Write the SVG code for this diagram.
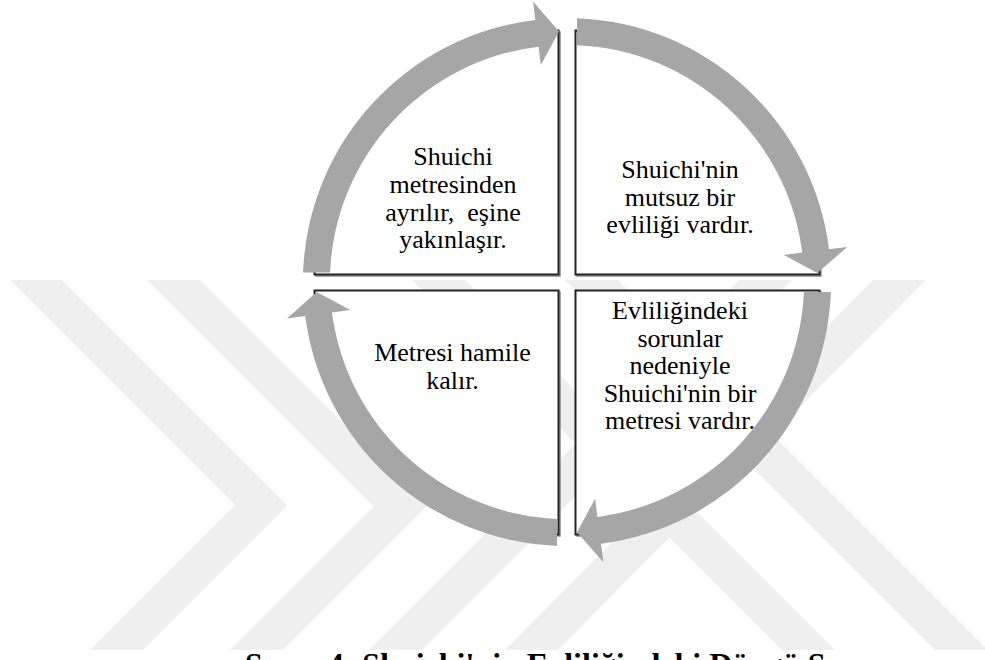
<svg xmlns="http://www.w3.org/2000/svg" width="985" height="660" viewBox="0 0 985 660">
  <style>
    .wm { fill: #efefef; }
    .quad { fill: #ffffff; stroke: #222222; stroke-width: 2; }
    .quad-shadow { fill: none; stroke: #8a8a8a; stroke-width: 1.5; }
    .arrow { fill: #a6a6a6; }
    .label { font-family: "Liberation Serif", "Times New Roman", serif; font-size: 26px; fill: #000000; text-anchor: middle; }
    .caption { font-family: "Liberation Serif", "Times New Roman", serif; font-size: 32px; font-weight: bold; fill: #000000; }
  </style>
  <defs>
    <path id="q-tl" d="M 314.5 274.5 A 244 244 0 0 1 558.5 30.5 L 558.5 274.5 Z"/>
    <path id="q-tr" d="M 575.5 30.5 A 244 244 0 0 1 819.5 274.5 L 575.5 274.5 Z"/>
    <path id="q-br" d="M 819.5 290.5 A 244 244 0 0 1 575.5 534.5 L 575.5 290.5 Z"/>
    <path id="q-bl" d="M 558.5 534.5 A 244 244 0 0 1 314.5 290.5 L 558.5 290.5 Z"/>
  </defs>

  <rect width="985" height="660" fill="#ffffff"/>

  <!-- faint background emblem -->
  <g id="emblem">
    <polygon class="wm" points="10,280 62,280 287.5,505.5 143,650 90,650 235,505"/>
    <polygon class="wm" points="147,280 200,280 426.5,506.5 283,650 230,650 373.5,506.5"/>
    <polygon class="wm" points="739,280 792,280 422,650 369,650"/>
    <polygon class="wm" points="873,280 926,280 558,650 505,650"/>
    <polygon class="wm" points="412,280 465,280 835,650 782,650"/>
    <polygon class="wm" points="565,280 618,280 988,650 935,650"/>
  </g>

  <!-- quadrant panels -->
  <g id="panel-tl">
    <use href="#q-tl" class="quad-shadow" transform="translate(1.5,1.5)"/>
    <use href="#q-tl" class="quad"/>
    <text class="label" x="453" y="165">Shuichi</text>
    <text class="label" x="453" y="193">metresinden</text>
    <text class="label" x="453" y="220.5" style="white-space:pre">ayrılır,  eşine</text>
    <text class="label" x="453" y="248">yakınlaşır.</text>
  </g>
  <g id="panel-tr">
    <use href="#q-tr" class="quad-shadow" transform="translate(1.5,1.5)"/>
    <use href="#q-tr" class="quad"/>
    <text class="label" x="680" y="178">Shuichi'nin</text>
    <text class="label" x="680" y="205.5">mutsuz bir</text>
    <text class="label" x="680" y="233">evliliği  vardır.</text>
  </g>
  <g id="panel-br">
    <use href="#q-br" class="quad-shadow" transform="translate(1.5,1.5)"/>
    <use href="#q-br" class="quad"/>
    <text class="label" x="680" y="319">Evliliğindeki</text>
    <text class="label" x="680" y="346.5">sorunlar</text>
    <text class="label" x="680" y="374">nedeniyle</text>
    <text class="label" x="680" y="401.5">Shuichi'nin bir</text>
    <text class="label" x="680" y="429">metresi vardır.</text>
  </g>
  <g id="panel-bl">
    <use href="#q-bl" class="quad-shadow" transform="translate(1.5,1.5)"/>
    <use href="#q-bl" class="quad"/>
    <text class="label" x="452.5" y="361">Metresi hamile</text>
    <text class="label" x="452.5" y="388.5">kalır.</text>
  </g>

  <!-- curved cycle arrows, clockwise -->
  <g id="connectors">
    <path class="arrow" d="M 303.1 272.5 A 264 264 0 0 1 535.3 19.9 L 533.1 1.6 L 559 31.6 L 540.8 65.1 L 538.5 46.7 A 237 237 0 0 0 330.1 272.5 Z"/>
    <path class="arrow" d="M 577 18.2 A 264 264 0 0 1 829 249.2 L 847.3 246.9 L 817.3 273 L 783.8 254.9 L 802.2 252.6 A 237 237 0 0 0 577 45.2 Z"/>
    <path class="arrow" d="M 830.9 292 A 264 264 0 0 1 601 543.8 L 603.4 562.2 L 577 532.3 L 595.1 498.7 L 597.5 517 A 237 237 0 0 0 803.9 292 Z"/>
    <path class="arrow" d="M 557 545.9 A 264 264 0 0 1 305.2 316 L 286.9 318.4 L 316.7 292 L 350.3 310.1 L 332 312.5 A 237 237 0 0 0 557 518.9 Z"/>
  </g>

  <text class="caption" x="245" y="674.5">Şema 4: Shuichi'nin Evliliğindeki Döngü Ş</text>
</svg>
